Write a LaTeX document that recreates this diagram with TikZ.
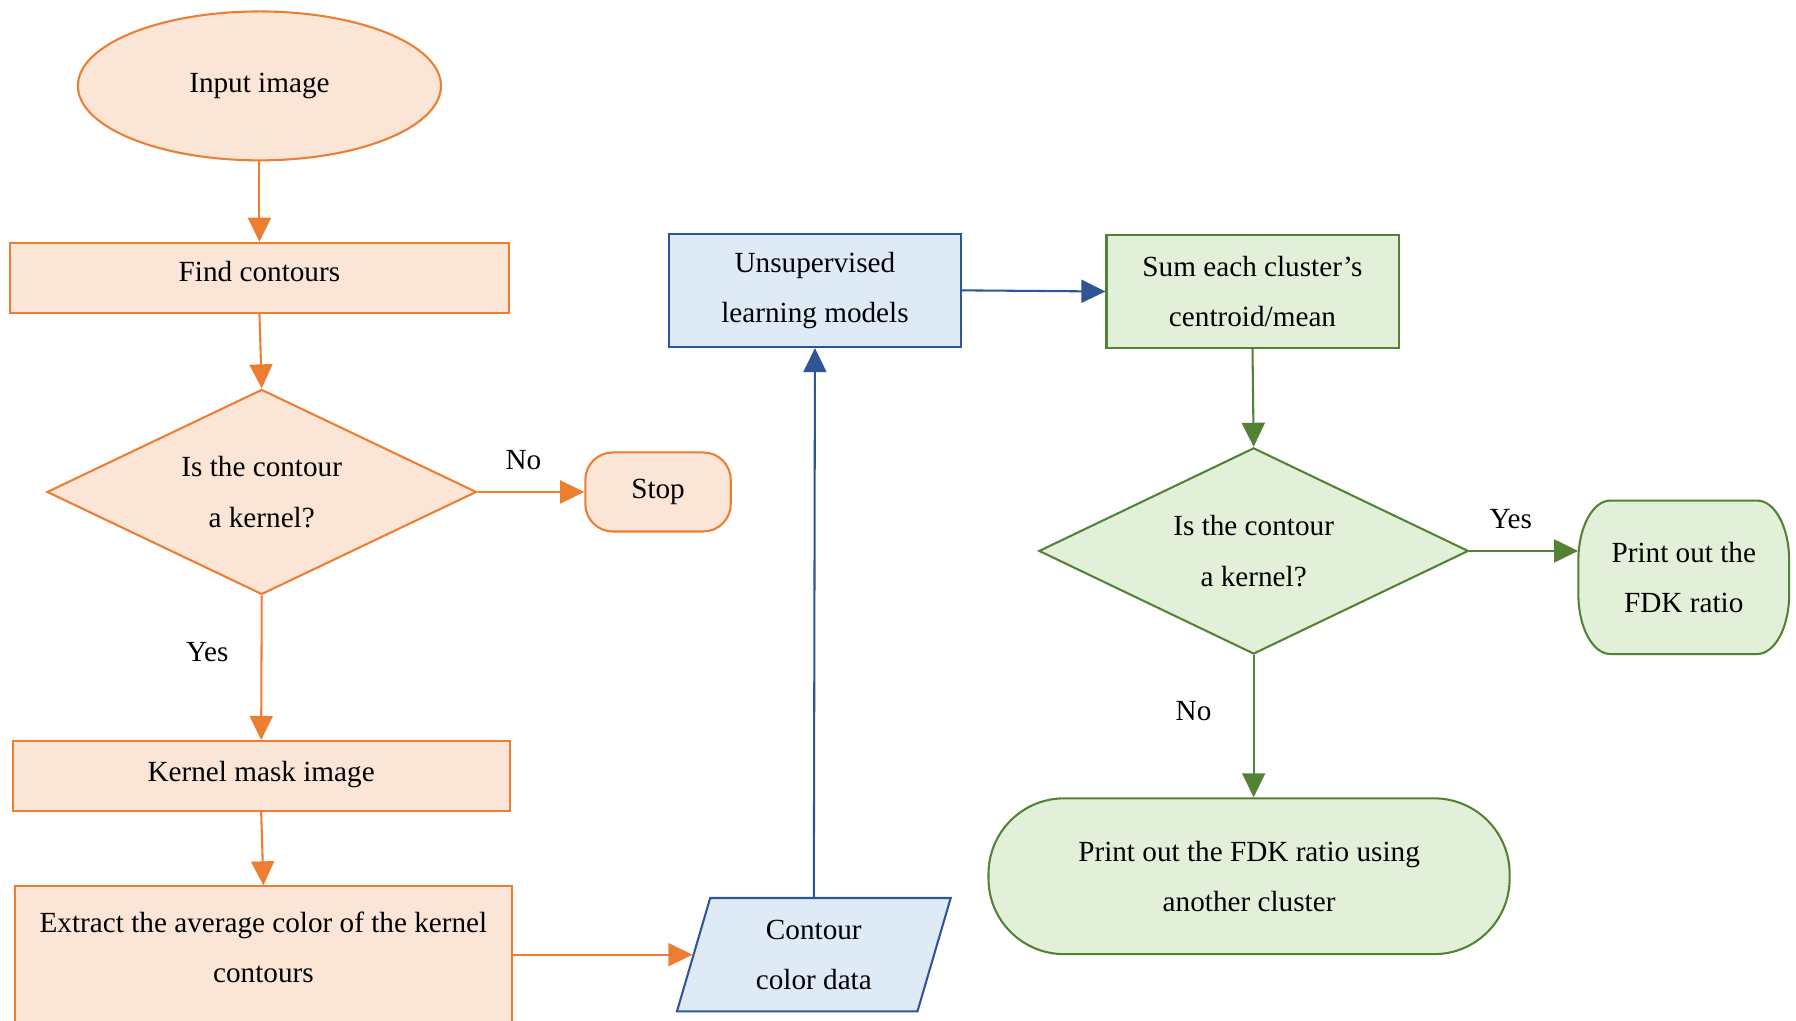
\documentclass[tikz,border=0pt]{standalone}
\usepackage{fontspec}
\setmainfont{Liberation Serif}
\usetikzlibrary{arrows.meta,shapes.geometric}
\definecolor{ostroke}{HTML}{ED7D31}
\definecolor{ofill}{HTML}{FBE5D6}
\definecolor{bstroke}{HTML}{2F5597}
\definecolor{bfill}{HTML}{DEEBF7}
\definecolor{gstroke}{HTML}{548235}
\definecolor{gfill}{HTML}{E2F0D9}
\begin{document}
\begin{tikzpicture}[x=1pt,y=-1pt,
  txt/.style={font=\fontsize{25.5}{44}\selectfont, align=center, inner sep=0pt},
  base/.style={txt, line width=1.8pt},
  obox/.style={base, draw=ostroke, fill=ofill},
  bbox/.style={base, draw=bstroke, fill=bfill},
  gbox/.style={base, draw=gstroke, fill=gfill},
  tip/.style={-{Triangle[length=21pt,width=20pt]}},
  oarr/.style={draw=ostroke, line width=1.8pt, tip},
  barr/.style={draw=bstroke, line width=1.8pt, tip},
  garr/.style={draw=gstroke, line width=1.8pt, tip}]
\useasboundingbox (0,0) rectangle (1568,891);
\fill[white] (0,0) rectangle (1568,891);

% left column (orange)
\node[obox, ellipse, minimum width=317pt, minimum height=130pt] (input) at (226.5,75) {\raisebox{6pt}{Input image}};
\node[obox, rectangle, minimum width=435pt, minimum height=61pt] (find) at (226.5,242.5) {\raisebox{12pt}{Find contours}};
\node[obox, diamond, aspect=2, minimum width=375pt, minimum height=179pt] (dec1) at (228.5,429.5) {Is the contour\\a kernel?};
\node[obox, rectangle, rounded corners=24pt, minimum width=127pt, minimum height=69pt] (stop) at (574.5,429.5) {\raisebox{-6pt}{Stop}};
\node[obox, rectangle, minimum width=434pt, minimum height=61pt] (kernel) at (228,677.5) {\raisebox{8pt}{Kernel mask image}};
\node[obox, rectangle, minimum width=434pt, minimum height=152pt, anchor=north] (extract) at (230,773) {};
\node[txt] (extracttxt) at (230,827) {Extract the average color of the kernel\\contours};

% blue
\node[bbox, trapezium, trapezium left angle=64.6, trapezium right angle=115.4, trapezium stretches body, minimum width=239pt, minimum height=99pt] (cdata) at (710.5,833.5) {Contour\\color data};
\node[bbox, rectangle, minimum width=255pt, minimum height=99pt] (unsup) at (711.5,253.5) {Unsupervised\\learning models};

% green
\node[gbox, rectangle, minimum width=255pt, minimum height=99pt] (sum) at (1093.5,254.5) {Sum each cluster’s\\centroid/mean};
\node[gbox, diamond, aspect=2, minimum width=375pt, minimum height=180pt] (dec2) at (1094.5,481) {Is the contour\\a kernel?};
\node[gbox, rectangle, rounded corners=66pt, minimum width=455pt, minimum height=136pt] (final) at (1090.5,765) {Print out the FDK ratio using\\another cluster};
\path[draw=gstroke, fill=gfill, line width=1.8pt]
  (1406,437) -- (1534,437) .. controls (1549.5,437) and (1562,460.3) .. (1562,489)
  -- (1562,519) .. controls (1562,547.7) and (1549.5,571) .. (1534,571)
  -- (1406,571) .. controls (1390.5,571) and (1378,547.7) .. (1378,519)
  -- (1378,489) .. controls (1378,460.3) and (1390.5,437) .. (1406,437) -- cycle;
\node[txt, minimum width=184pt, minimum height=134pt] (fdk) at (1470,504) {Print out the\\FDK ratio};

% connectors
\draw[oarr] (input.south) -- (find.north);
\draw[oarr] (find.south) -- (dec1.north);
\draw[oarr] (dec1.east) -- (stop.west);
\draw[oarr] (dec1.south) -- (kernel.north);
\draw[oarr] (kernel.south) -- (extract.north);
\draw[oarr] (extract.east |- cdata.west) -- (cdata.west);
\draw[barr] (cdata.north) -- (unsup.south);
\draw[barr] (unsup.east) -- (sum.west);
\draw[garr] (sum.south) -- (dec2.north);
\draw[garr] (dec2.east) -- (dec2.east -| fdk.west);
\draw[garr] (dec2.south) -- (dec2.south |- final.north);

% labels
\node[txt] (no1) at (457,402) {No};
\node[txt] (yes1) at (181,569) {Yes};
\node[txt] (yes2) at (1319,453) {Yes};
\node[txt] (no2) at (1042,621) {No};
\end{tikzpicture}
\end{document}
